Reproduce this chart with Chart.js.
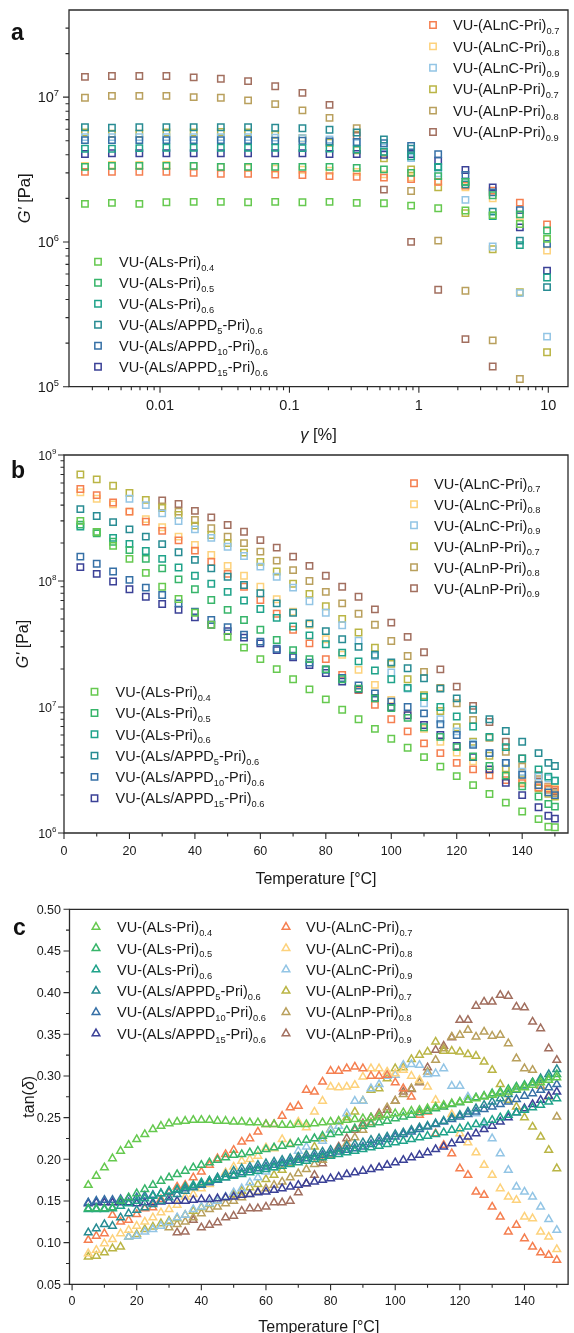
<!DOCTYPE html>
<html><head><meta charset="utf-8">
<script src="https://cdn.jsdelivr.net/npm/chart.js"></script>
<style>html,body{margin:0;padding:0;background:#fff}canvas{position:absolute;left:0}</style>
</head><body>
<canvas id="ca" width="574" height="445" style="top:0px"></canvas>
<canvas id="cb" width="574" height="460" style="top:445px"></canvas>
<canvas id="cc" width="574" height="433" style="top:900px"></canvas>
<script>
// ---------------- labels & colours ----------------
const labelsALs = ['VU-(ALs-Pri)_{0.4}','VU-(ALs-Pri)_{0.5}','VU-(ALs-Pri)_{0.6}','VU-(ALs/APPD_{5}-Pri)_{0.6}','VU-(ALs/APPD_{10}-Pri)_{0.6}','VU-(ALs/APPD_{15}-Pri)_{0.6}'];
const labelsALn = ['VU-(ALnC-Pri)_{0.7}','VU-(ALnC-Pri)_{0.8}','VU-(ALnC-Pri)_{0.9}','VU-(ALnP-Pri)_{0.7}','VU-(ALnP-Pri)_{0.8}','VU-(ALnP-Pri)_{0.9}'];
const colorsALs = ['#66c94f','#37b56a','#1fa38a','#288c93','#3670a6','#3b4197'];
const colorsALn = ['#f57f50','#fdd27c','#93c5e5','#bab545','#b9a05d','#a26f5f'];

// ---------------- panel a : G' vs strain ----------------
const strainA = [0.00263,0.00425,0.00692,0.0112,0.0182,0.0295,0.0479,0.0776,0.126,0.204,0.331,0.537,0.871,1.41,2.29,3.72,6.03,9.78];
const aALs04 = [1.83e6,1.86e6,1.83e6,1.88e6,1.89e6,1.89e6,1.88e6,1.89e6,1.88e6,1.89e6,1.86e6,1.85e6,1.78e6,1.71e6,1.65e6,1.53e6,1.33e6,1.05e6];
const aALs05 = [3.3e6,3.35e6,3.35e6,3.35e6,3.35e6,3.3e6,3.3e6,3.3e6,3.3e6,3.3e6,3.25e6,3.17e6,3.0e6,2.85e6,2.6e6,2.1e6,1.55e6,1.2e6];
const aALs06 = [4.4e6,4.4e6,4.45e6,4.47e6,4.47e6,4.47e6,4.47e6,4.47e6,4.45e6,4.42e6,4.35e6,4.2e6,3.9e6,3.3e6,2.6e6,1.51e6,9.5e5,5.68e5];
const aAPPD5 = [6.2e6,6.15e6,6.2e6,6.2e6,6.2e6,6.2e6,6.2e6,6.15e6,6.1e6,5.95e6,5.7e6,5.1e6,4.4e6,3.27e6,2.5e6,1.62e6,1.02e6,4.87e5];
const aAPPD10 = [5.05e6,5.05e6,5.05e6,5.05e6,5.05e6,5.05e6,5.05e6,5.0e6,5.0e6,4.95e6,4.9e6,4.8e6,4.6e6,4.03e6,2.9e6,2.2e6,1.66e6,9.7e5];
const aAPPD15 = [4.05e6,4.1e6,4.1e6,4.1e6,4.1e6,4.1e6,4.1e6,4.1e6,4.1e6,4.05e6,4.05e6,4.0e6,4.05e6,3.64e6,3.14e6,2.38e6,1.26e6,6.34e5];
const aALnC07 = [3.05e6,3.05e6,3.05e6,3.05e6,3.0e6,2.95e6,2.95e6,2.92e6,2.9e6,2.85e6,2.82e6,2.78e6,2.72e6,2.6e6,2.45e6,2.26e6,1.87e6,1.32e6];
const aALnC08 = [3.35e6,3.4e6,3.4e6,3.4e6,3.35e6,3.3e6,3.25e6,3.2e6,3.15e6,3.1e6,3.05e6,2.93e6,2.8e6,2.6e6,2.38e6,2.0e6,1.51e6,8.7e5];
const aALnC09 = [5.3e6,5.3e6,5.3e6,5.3e6,5.3e6,5.3e6,5.3e6,5.25e6,5.2e6,5.1e6,4.8e6,4.5e6,3.8e6,2.98e6,1.95e6,9.3e5,4.43e5,2.22e5];
const aALnP07 = [5.7e6,5.6e6,5.6e6,5.7e6,5.7e6,5.75e6,5.7e6,5.5e6,5.2e6,4.84e6,4.3e6,3.78e6,3.17e6,2.38e6,1.58e6,8.9e5,4.5e5,1.73e5];
const aALnP08 = [9.9e6,1.02e7,1.02e7,1.02e7,1.0e7,9.9e6,9.5e6,8.95e6,8.1e6,7.2e6,6.1e6,4.13e6,2.25e6,1.02e6,4.6e5,2.09e5,1.13e5,null];
const aALnP09 = [1.38e7,1.4e7,1.4e7,1.4e7,1.37e7,1.34e7,1.29e7,1.19e7,1.07e7,8.85e6,5.4e6,2.3e6,1.0e6,4.67e5,2.13e5,1.38e5,null,null];

// ---------------- panel b : G' vs temperature ----------------
const tempB = [5,10,15,20,25,30,35,40,45,50,55,60,65,70,75,80,85,90,95,100,105,110,115,120,125,130,135,140,145,148,150];
const bALs04 = [3.0e8,2.45e8,1.9e8,1.5e8,1.16e8,9.0e7,7.2e7,5.6e7,4.5e7,3.6e7,2.96e7,2.4e7,2.0e7,1.66e7,1.38e7,1.15e7,9.5e6,8.0e6,6.7e6,5.6e6,4.75e6,4.0e6,3.36e6,2.83e6,2.4e6,2.04e6,1.74e6,1.48e6,1.29e6,1.12e6,1.11e6];
const bALs05 = [2.8e8,2.39e8,2.05e8,1.76e8,1.5e8,1.26e8,1.03e8,8.6e7,7.06e7,5.9e7,4.9e7,4.1e7,3.4e7,2.83e7,2.4e7,2.0e7,1.66e7,1.4e7,1.17e7,9.8e6,8.2e6,6.9e6,5.8e6,4.8e6,4.05e6,3.4e6,2.85e6,2.35e6,1.95e6,1.7e6,1.62e6];
const bALs06 = [2.7e8,2.45e8,2.2e8,1.97e8,1.73e8,1.5e8,1.28e8,1.1e8,9.5e7,8.2e7,7.0e7,6.0e7,5.1e7,4.35e7,3.7e7,3.15e7,2.7e7,2.3e7,1.95e7,1.66e7,1.42e7,1.2e7,1.0e7,8.4e6,7.0e6,5.8e6,4.8e6,3.9e6,3.2e6,2.8e6,2.6e6];
const bAPPD5 = [3.72e8,3.28e8,2.93e8,2.57e8,2.25e8,1.96e8,1.69e8,1.47e8,1.26e8,1.08e8,9.3e7,8.0e7,6.65e7,5.6e7,4.6e7,4.0e7,3.45e7,3.0e7,2.6e7,2.26e7,2.03e7,1.69e7,1.4e7,1.17e7,9.5e6,8.0e6,6.45e6,5.3e6,4.3e6,3.6e6,3.4e6];
const bAPPD10 = [1.56e8,1.37e8,1.19e8,1.02e8,8.85e7,7.74e7,6.65e7,5.7e7,4.9e7,4.3e7,3.75e7,3.3e7,2.9e7,2.55e7,2.25e7,1.97e7,1.7e7,1.48e7,1.28e7,1.1e7,1.0e7,8.9e6,7.3e6,6.0e6,5.0e6,4.3e6,3.6e6,2.9e6,2.4e6,2.1e6,2.0e6];
const bAPPD15 = [1.29e8,1.14e8,9.9e7,8.6e7,7.5e7,6.57e7,5.9e7,5.15e7,4.5e7,4.0e7,3.55e7,3.2e7,2.83e7,2.48e7,2.15e7,1.86e7,1.59e7,1.38e7,1.18e7,1.0e7,8.6e6,7.2e6,6.0e6,4.9e6,4.0e6,3.2e6,2.5e6,2.0e6,1.6e6,1.37e6,1.3e6];
const bALnC07 = [5.37e8,4.8e8,4.2e8,3.55e8,2.96e8,2.5e8,2.1e8,1.74e8,1.42e8,1.14e8,9.0e7,7.06e7,5.5e7,4.1e7,3.2e7,2.4e7,1.8e7,1.36e7,1.04e7,8.0e6,6.4e6,5.15e6,4.3e6,3.6e6,3.2e6,2.87e6,2.63e6,2.48e6,2.3e6,2.25e6,2.2e6];
const bALnC08 = [5.06e8,4.5e8,4.06e8,3.55e8,3.1e8,2.67e8,2.25e8,1.93e8,1.61e8,1.32e8,1.1e8,9.0e7,7.16e7,5.7e7,4.5e7,3.45e7,2.6e7,1.97e7,1.5e7,1.14e7,8.6e6,6.7e6,5.3e6,4.35e6,3.7e6,3.16e6,2.8e6,2.55e6,2.4e6,2.3e6,2.25e6];
const bALnC09 = [null,null,null,4.5e8,4.0e8,3.44e8,2.99e8,2.57e8,2.2e8,1.87e8,1.58e8,1.3e8,1.08e8,8.85e7,6.9e7,5.6e7,4.45e7,3.36e7,2.54e7,1.88e7,1.4e7,1.07e7,8.0e6,6.4e6,5.15e6,4.3e6,3.6e6,3.06e6,2.8e6,2.72e6,2.6e6];
const bALnP07 = [7.0e8,6.4e8,5.7e8,5.0e8,4.4e8,3.8e8,3.34e8,2.75e8,2.32e8,2.0e8,1.68e8,1.42e8,1.19e8,9.5e7,7.9e7,6.3e7,5.0e7,3.9e7,2.95e7,2.2e7,1.66e7,1.24e7,9.3e6,6.9e6,5.3e6,4.1e6,3.26e6,2.67e6,2.26e6,2.05e6,1.95e6];
const bALnP08 = [null,null,null,null,null,3.9e8,3.55e8,3.05e8,2.62e8,2.25e8,2.0e8,1.71e8,1.45e8,1.22e8,1.0e8,8.2e7,6.65e7,5.5e7,4.5e7,3.34e7,2.54e7,1.9e7,1.42e7,1.07e7,7.9e6,5.7e6,4.4e6,3.36e6,2.67e6,2.2e6,2.07e6];
const bALnP09 = [null,null,null,null,null,4.35e8,4.08e8,3.6e8,3.2e8,2.78e8,2.46e8,2.11e8,1.84e8,1.56e8,1.32e8,1.1e8,9.0e7,7.5e7,5.96e7,4.67e7,3.6e7,2.72e7,1.99e7,1.45e7,1.02e7,7.6e6,5.3e6,3.9e6,2.88e6,2.33e6,2.13e6];

// ---------------- panel c : tan(delta) vs temperature ----------------
const tempC = [5,7.5,10,12.5,15,17.5,20,22.5,25,27.5,30,32.5,35,37.5,40,42.5,45,47.5,50,52.5,55,57.5,60,62.5,65,67.5,70,72.5,75,77.5,80,82.5,85,87.5,90,92.5,95,97.5,100,102.5,105,107.5,110,112.5,115,117.5,120,122.5,125,127.5,130,132.5,135,137.5,140,142.5,145,147.5,150];
const cALs04 = [0.169,0.180,0.190,0.201,0.210,0.217,0.224,0.230,0.236,0.240,0.243,0.245,0.246,0.247,0.247,0.247,0.246,0.246,0.245,0.245,0.244,0.244,0.242,0.242,0.241,0.241,0.242,0.242,0.243,0.244,0.245,0.246,0.247,0.248,0.249,0.250,0.251,0.253,0.255,0.256,0.258,0.259,0.261,0.263,0.265,0.267,0.269,0.271,0.273,0.275,0.277,0.279,0.281,0.284,0.286,0.289,0.292,0.295,0.298];
const cALs05 = [0.141,0.141,0.141,0.142,0.150,0.154,0.159,0.164,0.169,0.174,0.178,0.182,0.186,0.190,0.193,0.196,0.199,0.202,0.205,0.206,0.208,0.210,0.212,0.214,0.216,0.218,0.220,0.223,0.225,0.228,0.230,0.232,0.235,0.237,0.240,0.242,0.244,0.246,0.249,0.251,0.253,0.256,0.258,0.261,0.263,0.266,0.268,0.271,0.274,0.276,0.279,0.281,0.284,0.287,0.289,0.292,0.295,0.298,0.302];
const cALs06 = [0.140,0.140,0.140,0.141,0.144,0.147,0.150,0.153,0.156,0.159,0.162,0.164,0.167,0.169,0.172,0.174,0.176,0.178,0.180,0.182,0.184,0.186,0.188,0.190,0.192,0.194,0.196,0.198,0.200,0.202,0.204,0.206,0.208,0.210,0.212,0.214,0.216,0.218,0.220,0.222,0.224,0.226,0.228,0.230,0.232,0.235,0.237,0.239,0.242,0.244,0.247,0.250,0.253,0.256,0.259,0.262,0.265,0.269,0.273];
const cAPPD5 = [0.112,0.117,0.122,0.120,0.130,0.135,0.139,0.142,0.146,0.150,0.154,0.158,0.162,0.166,0.170,0.174,0.178,0.182,0.186,0.189,0.191,0.193,0.195,0.197,0.199,0.201,0.203,0.205,0.207,0.209,0.211,0.213,0.216,0.218,0.220,0.223,0.225,0.227,0.230,0.232,0.235,0.238,0.240,0.243,0.246,0.250,0.253,0.257,0.261,0.265,0.269,0.273,0.278,0.283,0.287,0.292,0.297,0.302,0.308];
const cAPPD10 = [0.148,0.150,0.151,0.151,0.152,0.153,0.154,0.156,0.157,0.159,0.161,0.163,0.165,0.167,0.169,0.172,0.175,0.178,0.181,0.184,0.187,0.189,0.191,0.193,0.195,0.197,0.199,0.201,0.203,0.205,0.207,0.209,0.211,0.213,0.215,0.218,0.221,0.224,0.227,0.230,0.233,0.236,0.239,0.242,0.245,0.248,0.251,0.254,0.257,0.260,0.263,0.266,0.269,0.272,0.276,0.279,0.283,0.286,0.290];
const cAPPD15 = [0.147,0.148,0.148,0.148,0.148,0.148,0.147,0.148,0.148,0.149,0.150,0.150,0.150,0.151,0.152,0.152,0.153,0.154,0.155,0.157,0.158,0.160,0.161,0.163,0.165,0.167,0.169,0.171,0.173,0.175,0.177,0.179,0.182,0.184,0.186,0.188,0.190,0.193,0.196,0.199,0.202,0.205,0.208,0.212,0.215,0.219,0.223,0.227,0.231,0.236,0.240,0.245,0.250,0.256,0.261,0.266,0.271,0.276,0.281];
const cALnC07 = [0.103,0.108,0.111,0.133,0.125,0.127,0.134,0.141,0.142,0.152,0.160,0.167,0.169,0.178,0.185,0.193,0.201,0.206,0.211,0.221,0.225,0.233,0.242,0.242,0.252,0.262,0.264,0.283,0.281,0.293,0.306,0.306,0.309,0.311,0.309,0.300,0.300,0.301,0.292,0.285,0.275,0.253,0.257,0.231,0.217,0.207,0.189,0.181,0.161,0.157,0.143,0.131,0.113,0.121,0.105,0.095,0.088,0.085,0.079];
const cALnC08 = [0.087,0.091,0.099,0.104,0.111,0.115,0.120,0.125,0.130,0.136,0.140,0.145,0.155,0.158,0.165,0.170,0.175,0.184,0.191,0.198,0.200,0.204,0.214,0.213,0.224,0.219,0.245,0.238,0.257,0.270,0.287,0.286,0.287,0.289,0.299,0.309,0.309,0.305,0.303,0.307,0.300,0.295,0.287,0.271,0.263,0.254,0.231,0.220,0.208,0.193,0.181,0.165,0.155,0.151,0.131,0.129,0.113,0.107,0.092];
const cALnC09 = [null,null,null,null,null,0.107,0.108,0.113,0.116,0.120,0.124,0.130,0.133,0.140,0.143,0.147,0.150,0.155,0.160,0.165,0.172,0.178,0.185,0.190,0.196,0.200,0.210,0.215,0.225,0.222,0.235,0.240,0.255,0.270,0.270,0.285,0.290,0.300,0.301,0.313,0.314,0.313,0.302,0.303,0.309,0.288,0.288,0.275,0.255,0.241,0.225,0.207,0.187,0.167,0.161,0.155,0.143,0.128,0.115];
const cALnP07 = [0.083,0.084,0.088,0.093,0.095,0.107,0.110,0.116,0.119,0.123,0.126,0.129,0.133,0.138,0.142,0.146,0.150,0.154,0.158,0.162,0.166,0.170,0.176,0.181,0.187,0.195,0.202,0.205,0.215,0.225,0.236,0.245,0.250,0.257,0.270,0.283,0.285,0.297,0.309,0.310,0.320,0.325,0.329,0.341,0.330,0.330,0.329,0.326,0.324,0.317,0.307,0.290,0.271,0.263,0.250,0.239,0.227,0.211,0.189];
const cALnP08 = [null,null,null,null,null,null,null,null,null,null,0.118,0.122,0.125,0.130,0.135,0.140,0.143,0.147,0.150,0.154,0.158,0.161,0.165,0.169,0.173,0.178,0.183,0.188,0.194,0.199,0.205,0.212,0.219,0.226,0.235,0.244,0.253,0.262,0.270,0.278,0.285,0.293,0.305,0.319,0.333,0.347,0.349,0.355,0.347,0.353,0.348,0.349,0.339,0.321,0.309,0.307,0.288,0.275,0.251];
const cALnP09 = [null,null,null,null,null,null,null,null,null,null,null,0.112,0.113,0.127,0.118,0.121,0.124,0.130,0.132,0.138,0.141,0.141,0.143,0.148,0.148,0.150,0.160,0.171,0.181,0.195,0.205,0.215,0.225,0.235,0.243,0.250,0.255,0.259,0.270,0.281,0.284,0.292,0.310,0.331,0.336,0.346,0.367,0.367,0.384,0.389,0.389,0.397,0.396,0.383,0.382,0.365,0.357,0.333,0.319];

// ---------------- tick labels ----------------
const aXMajor = [0.01,0.1,1,10];
const aXLabels = ['0.01','0.1','1','10'];
const aYMajor = [1e5,1e6,1e7];
const aYLabels = ['10^{5}','10^{6}','10^{7}'];
const bYMajor = [1e6,1e7,1e8,1e9];
const bYLabels = ['10^{6}','10^{7}','10^{8}','10^{9}'];
const tXMajor = [0,20,40,60,80,100,120,140];
const tXLabels = ['0','20','40','60','80','100','120','140'];
const cYMajor = [0.05,0.10,0.15,0.20,0.25,0.30,0.35,0.40,0.45,0.50];
const cYLabels = ['0.05','0.10','0.15','0.20','0.25','0.30','0.35','0.40','0.45','0.50'];

function logMinors(d0,d1){const m=[];for(let d=d0;d<=d1;d++){for(let k=2;k<=9;k++)m.push(k*Math.pow(10,d));}return m;}
const tXMinor = [10,30,50,70,90,110,130,150];
const cYMinor = [0.075,0.125,0.175,0.225,0.275,0.325,0.375,0.425,0.475];

// ---------------- drawing helpers ----------------
const FAM = '"Liberation Sans", Arial, Helvetica, sans-serif';
function parseRich(s){
  const out=[];let i=0,buf='';
  while(i<s.length){
    const c=s[i];
    if((c==='_'||c==='^'||c==='*')&&s[i+1]==='{'){
      if(buf){out.push({t:buf,k:'n'});buf='';}
      const j=s.indexOf('}',i+2);
      out.push({t:s.slice(i+2,j),k:c});i=j+1;
    } else {buf+=c;i++;}
  }
  if(buf)out.push({t:buf,k:'n'});
  return out;
}
function fontFor(k,size){
  if(k==='_'||k==='^')return (size*0.64).toFixed(1)+'px '+FAM;
  if(k==='*')return 'italic '+size+'px '+FAM;
  return size+'px '+FAM;
}
function drawRich(ctx,s,x,y,size,align,color){
  const parts=parseRich(s);
  ctx.save();ctx.fillStyle=color||'#1a1a1a';ctx.textBaseline='alphabetic';ctx.textAlign='left';
  let w=0;const ws=[];
  for(const p of parts){ctx.font=fontFor(p.k,size);const m=ctx.measureText(p.t).width;ws.push(m);w+=m;}
  let cx=align==='right'?x-w:(align==='center'?x-w/2:x);
  const base=y+size*0.36;
  parts.forEach((p,i)=>{ctx.font=fontFor(p.k,size);let dy=0;if(p.k==='_')dy=size*0.27;if(p.k==='^')dy=-size*0.42;ctx.fillText(p.t,cx,base+dy);cx+=ws[i];});
  ctx.restore();
}
function drawMarker(ctx,style,x,y,r,color,lw){
  ctx.save();ctx.strokeStyle=color;ctx.lineWidth=lw;ctx.beginPath();
  if(style==='rect'){const s=r*Math.SQRT1_2;ctx.rect(x-s,y-s,2*s,2*s);}
  else{let a=0;ctx.moveTo(x+Math.sin(a)*r,y-Math.cos(a)*r);a+=2*Math.PI/3;ctx.lineTo(x+Math.sin(a)*r,y-Math.cos(a)*r);a+=2*Math.PI/3;ctx.lineTo(x+Math.sin(a)*r,y-Math.cos(a)*r);ctx.closePath();}
  ctx.stroke();ctx.restore();
}

const decoPlugin={
  id:'deco',
  afterDraw(chart,args,o){
    const ctx=chart.ctx,a=chart.chartArea,X=chart.scales.x,Y=chart.scales.y;
    ctx.save();
    ctx.strokeStyle='#2a2a2a';ctx.lineWidth=1.3;
    ctx.beginPath();ctx.rect(a.left,a.top,a.right-a.left,a.bottom-a.top);ctx.stroke();
    const inX=v=>{const p=X.getPixelForValue(v);return (p>=a.left-0.5&&p<=a.right+0.5)?p:null;};
    const inY=v=>{const p=Y.getPixelForValue(v);return (p>=a.top-0.5&&p<=a.bottom+0.5)?p:null;};
    ctx.lineWidth=1.1;ctx.beginPath();
    o.xMajor.forEach(v=>{const p=inX(v);if(p!=null){ctx.moveTo(p,a.bottom);ctx.lineTo(p,a.bottom+6);}});
    o.xMinor.forEach(v=>{const p=inX(v);if(p!=null&&p<a.right-1&&p>a.left+1){ctx.moveTo(p,a.bottom);ctx.lineTo(p,a.bottom+3.5);}});
    o.yMajor.forEach(v=>{const p=inY(v);if(p!=null){ctx.moveTo(a.left,p);ctx.lineTo(a.left-6,p);}});
    o.yMinor.forEach(v=>{const p=inY(v);if(p!=null&&p>a.top+1&&p<a.bottom-1){ctx.moveTo(a.left,p);ctx.lineTo(a.left-3.5,p);}});
    ctx.stroke();
    o.xMajor.forEach((v,i)=>{const p=inX(v);if(p!=null)drawRich(ctx,o.xLabels[i],p,a.bottom+o.xLabDy,o.tickSize,'center');});
    o.yMajor.forEach((v,i)=>{const p=inY(v);if(p!=null)drawRich(ctx,o.yLabels[i],a.left-o.yLabDx,p,o.tickSize,'right');});
    drawRich(ctx,o.xTitle,(a.left+a.right)/2,o.xTitleY,o.titleSize,'center');
    ctx.save();ctx.translate(o.yTitleX,(a.top+a.bottom)/2);ctx.rotate(-Math.PI/2);drawRich(ctx,o.yTitle,0,0,o.titleSize,'center');ctx.restore();
    ctx.font='bold 23px '+FAM;ctx.fillStyle='#111';ctx.textAlign='left';ctx.textBaseline='alphabetic';
    ctx.fillText(o.letter,o.letterX,o.letterY);
    o.legends.forEach(L=>{
      L.labels.forEach((lab,k)=>{const y=L.y0+k*L.dy;drawMarker(ctx,o.marker,L.mx,y,o.mr,L.colors[k],1.5);drawRich(ctx,lab,L.tx,y,o.legSize,'left');});
    });
    ctx.restore();
  }
};

function toXY(xs,ys){const d=[];ys.forEach((v,i)=>{if(v!=null)d.push({x:xs[i],y:v});});return d;}
function makeSets(xs,seriesALs,seriesALn,style,r){
  const sets=[];
  const all=seriesALs.map((s,i)=>({s,c:colorsALs[i],l:labelsALs[i]})).concat(seriesALn.map((s,i)=>({s,c:colorsALn[i],l:labelsALn[i]})));
  all.forEach(o=>sets.push({label:o.l,data:toXY(xs,o.s),showLine:false,borderColor:o.c,backgroundColor:'rgba(255,255,255,0)',pointStyle:style,pointRadius:r,pointBorderWidth:1.5,pointHoverRadius:r}));
  return sets;
}
function makeChart(id,sets,sc,deco,pad,xh,yw){
  return new Chart(document.getElementById(id),{
    type:'scatter',
    data:{datasets:sets},
    options:{
      responsive:false,animation:false,events:[],
      layout:{padding:{top:pad.top,right:pad.right,left:0,bottom:0}},
      plugins:{legend:{display:false},tooltip:{enabled:false},deco:deco},
      scales:{
        x:Object.assign({grid:{display:false},border:{display:false},ticks:{display:false},afterFit:s=>{s.height=xh;}},sc.x),
        y:Object.assign({grid:{display:false},border:{display:false},ticks:{display:false},afterFit:s=>{s.width=yw;}},sc.y)
      }
    },
    plugins:[decoPlugin]
  });
}

// ---- panel a ----
makeChart('ca',
  makeSets(strainA,[aALs04,aALs05,aALs06,aAPPD5,aAPPD10,aAPPD15],[aALnC07,aALnC08,aALnC09,aALnP07,aALnP08,aALnP09],'rect',4.5),
  {x:{type:'logarithmic',min:0.00198,max:14.2},y:{type:'logarithmic',min:1e5,max:4e7}},
  {xMajor:aXMajor,xLabels:aXLabels,xMinor:logMinors(-3,0),yMajor:aYMajor,yLabels:aYLabels,yMinor:logMinors(5,7),
   tickSize:14.5,xLabDy:18,yLabDx:10,xTitle:'*{γ} [%]',xTitleY:434,yTitle:"*{G'} [Pa]",yTitleX:24,titleSize:16.5,
   letter:'a',letterX:11,letterY:40,marker:'rect',mr:4.5,legSize:14.5,
   legends:[{labels:labelsALn,colors:colorsALn,mx:433,tx:453,y0:25,dy:21.4},{labels:labelsALs,colors:colorsALs,mx:98,tx:119,y0:261.7,dy:21}]},
  {top:10,right:1},445-386.7,69);

// ---- panel b ----
makeChart('cb',
  makeSets(tempB,[bALs04,bALs05,bALs06,bAPPD5,bAPPD10,bAPPD15],[bALnC07,bALnC08,bALnC09,bALnP07,bALnP08,bALnP09],'rect',4.5),
  {x:{type:'linear',min:0,max:154},y:{type:'logarithmic',min:1e6,max:1e9}},
  {xMajor:tXMajor,xLabels:tXLabels,xMinor:tXMinor,yMajor:bYMajor,yLabels:bYLabels,yMinor:logMinors(6,8),
   tickSize:12.5,xLabDy:17,yLabDx:7.5,xTitle:'Temperature [°C]',xTitleY:433,yTitle:"*{G'} [Pa]",yTitleX:22,titleSize:16,
   letter:'b',letterX:11,letterY:33,marker:'rect',mr:4.5,legSize:14.5,
   legends:[{labels:labelsALn,colors:colorsALn,mx:414,tx:434,y0:38.3,dy:21},{labels:labelsALs,colors:colorsALs,mx:94.5,tx:115.5,y0:246.7,dy:21.3}]},
  {top:10,right:1},460-388,64);

// ---- panel c ----
makeChart('cc',
  makeSets(tempC,[cALs04,cALs05,cALs06,cAPPD5,cAPPD10,cAPPD15],[cALnC07,cALnC08,cALnC09,cALnP07,cALnP08,cALnP09],'triangle',4.4),
  {x:{type:'linear',min:-0.8,max:153.5},y:{type:'linear',min:0.05,max:0.50}},
  {xMajor:tXMajor,xLabels:tXLabels,xMinor:tXMinor,yMajor:cYMajor,yLabels:cYLabels,yMinor:cYMinor,
   tickSize:12.5,xLabDy:16,yLabDx:8.5,xTitle:'Temperature [°C]',xTitleY:426,yTitle:'tan(*{δ})',yTitleX:28,titleSize:16,
   letter:'c',letterX:13,letterY:35,marker:'triangle',mr:4.4,legSize:14.5,
   legends:[{labels:labelsALs,colors:colorsALs,mx:96,tx:117,y0:27,dy:21.3},{labels:labelsALn,colors:colorsALn,mx:286,tx:306,y0:27,dy:21.3}]},
  {top:9.3,right:1},433-384.3,69.5);
</script>
</body></html>
